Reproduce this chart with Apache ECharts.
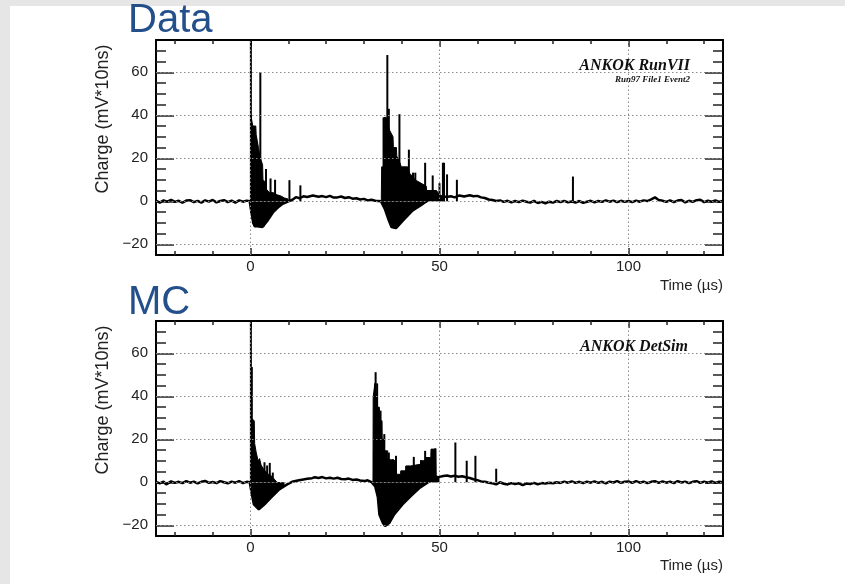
<!DOCTYPE html>
<html><head><meta charset="utf-8">
<script src="https://cdn.jsdelivr.net/npm/echarts@6/dist/echarts.min.js"></script>
<style>
html,body{margin:0;padding:0;background:#e6e6e6;width:845px;height:584px;overflow:hidden}
#paper{position:absolute;left:10px;top:6px;width:835px;height:578px;background:#fff}
#chart{position:absolute;left:0;top:0;width:845px;height:584px}
</style></head><body>
<div id="paper"></div><div id="chart"></div>
<script>
// ---- axes ----
const xRange = [-25, 125];
const yRange = [-25, 75];
const xMajorTicks = [0, 50, 100];
const xMinorTicks = [-20, -10, 10, 20, 30, 40, 60, 70, 80, 90, 110, 120];
const yMajorTicks = [-20, 0, 20, 40, 60];
const yMinorTicks = [-15, -10, -5, 5, 10, 15, 25, 30, 35, 45, 50, 55, 65, 70];
const panelTitles = ['Data', 'MC'];

// ---- Data panel (ANKOK RunVII) ----
const dataTrace = [[-25,0.3],[-24,-0.6],[-23,0.4],[-22,-0.2],[-21,0.7],[-20,-0.3],[-19,0.2],[-18,-0.7],[-17,0.3],[-16,0.5],[-15,-0.4],[-14,0.2],[-13,-0.6],[-12,0.4],[-11,-0.2],[-10,0.6],[-9,-0.5],[-8,0.1],[-7,0.5],[-6,-0.4],[-5,0.3],[-4,-0.6],[-3,0.4],[-2,-0.2],[-1,0.3],[-0.2,0],
[0.3,-6],[1,-11],[3,-12],[4.5,-9],[6,-5],[7.5,-2.5],[8.5,-1.2],[10,0],[11,0.6],[12,1.9],[13,1.4],[14,2.3],[15,2.0],[16.5,2.7],[18,2.1],[19,2.4],[20,1.9],[21,2.5],[22,1.7],[23,1.8],[24,2.2],[25,1.5],[26,1.9],[27,1.2],[28,1.4],[29,0.8],[30,1.1],[31,0.4],[32,0.7],[33,0.2],[34.5,0],
[35.5,-3.4],[36.4,-8],[37.3,-12],[38.5,-12.5],[40.3,-9],[42.9,-4.3],[45.6,-1.2],[47,0.5],[48.2,1.9],[49,1.2],[50,1.6],[51,2.4],[51.8,2.0],[53,2.3],[54,1.8],[55.3,2.7],[56.5,2.2],[58,2.8],[59,2.3],[60,2.5],[61,1.8],[62,1.5],[63,0.8],[64,0.6],[65,0.1],[66,0.4],[67,-0.3],[68,0.2],[69,-0.5],[70,0.1],[71,-0.4],[72,0.3],[73,-0.2],[74,-0.6],[75,0.2],[76,-0.8],[77,-0.3],[78,-1.0],[79,-0.2],[80,-0.6],[81,0.1],[82,-0.4],[83,0.2],[84,-0.5],[85,-0.1],[86,-0.6],[87,0.1],[88,-0.7],[89,-0.2],[90,0.2],[91,-0.5],[92,0.1],[93,-0.3],[94,0.4],[95,-0.2],[96,0.3],[97,-0.4],[98,0.2],[99,-0.3],[100,0.1],[101,-0.4],[102,0.3],[103,-0.2],[104,0.4],[105,0.1],[106,0.9],[107,1.8],[108,0.6],[109,0.2],[110,-0.3],[111,0.4],[112,-0.4],[113,0.3],[114,0.6],[115,-0.5],[116,0.2],[117,-0.3],[118,0.5],[119,0.7],[120,-0.4],[121,0.3],[122,-0.2],[123,0.4],[124,-0.3],[125,0.2]];
const dataHigh1 = [[0.1,40],[0.55,40],[0.6,35],[1.4,35],[1.5,31],[2.0,31],[2.1,25],[2.5,25],[2.6,20],[3.2,17],[3.3,10],[3.9,9],[4.0,6],[5,4],[6,4],[7,3],[8,2.5],[9,1.5],[10,1]];
const dataLow1 = [[0.1,0],[0.2,-5],[0.5,-10],[1,-12],[3.5,-12],[4.5,-9],[5.8,-5.5],[7,-3],[8.5,-1.2],[10,0]];
const dataHigh2 = [[34.6,0],[34.7,16],[35.3,16],[35.35,39],[35.9,39],[36.8,33],[37.7,30],[37.8,25],[38.6,25],[38.7,21],[39.5,18],[39.9,16],[41.6,16],[42.1,13],[43.9,9.6],[44,9],[46.5,7],[46.6,5],[49.2,5],[50,3],[51,2.2]];
const dataLow2 = [[34.6,0],[35.5,-3.4],[36.4,-8],[37.3,-12],[38.5,-12.8],[40.3,-9],[42.9,-4.3],[45.6,-1.2],[47,0]];
const dataSpikeT = [0.1, 2.6, 4.1, 5.3, 6.5, 10.3, 13.2, 35.2, 36.2, 36.6, 37.9, 39.4, 40.0, 41.9, 43.0, 43.6, 44.5, 46.2, 48.2, 50.0, 50.9, 51.2, 52.0, 54.6, 85.3];
const dataSpikeV = [75, 60, 15, 10.6, 10, 9.8, 7.4, 39, 68, 43, 25, 40.5, 15.4, 24, 13.3, 13.3, 8, 17.9, 12, 8.4, 17.9, 17.9, 12.5, 10, 11.5];

// ---- MC panel (ANKOK DetSim) ----
const mcTrace = [[-25,0.2],[-24,-0.5],[-23,0.3],[-22.3,-1.0],[-21,0.4],[-20,-0.3],[-19,0.2],[-18,-0.4],[-17,0.5],[-16,-0.2],[-15,0.3],[-14,-0.5],[-13,0.2],[-12,0.6],[-11,-0.3],[-10,0.1],[-9,-0.4],[-8,0.5],[-7,0],[-6,-0.5],[-5,0.3],[-4,-0.2],[-3,0.5],[-2,-0.4],[-1,0.2],[-0.2,0],
[0.3,-5],[0.9,-10.3],[2.2,-12.6],[3.7,-10.3],[5.4,-7.2],[7.6,-3.3],[9.8,-0.9],[11,0.2],[12.8,0.9],[14,1.3],[15,1.6],[16.3,1.9],[17,2.3],[18,2.0],[19,2.4],[20,1.8],[21,2.1],[22,1.7],[23,2.1],[24,1.5],[25,1.4],[26,1.7],[27,1.1],[28,1.3],[29,0.8],[30.3,0.6],[31,0.9],[32,0.1],[32.4,0],
[33,-2],[33.7,-7],[34.1,-15],[35,-18.9],[35.6,-20.4],[36.7,-19],[38,-15],[40.2,-10.3],[42.4,-6.4],[44.6,-2.8],[46.8,-0.2],[48.5,1.4],[50,2.5],[51,2.9],[52,3.1],[53,2.7],[54,3.0],[55,2.6],[56,2.8],[57,2.3],[58,2.0],[59,1.4],[60,1.0],[61,0.4],[62,0.2],[63,-0.2],[64,-0.5],[65,-1.0],[66,0],[67,-0.7],[68,-1.0],[69,-0.4],[70,-0.8],[71,-0.5],[72,-1.3],[73,-0.6],[74,-0.8],[75,-0.3],[76,-1.0],[77,-0.4],[78,-0.6],[79,-0.2],[80,-0.5],[81,0],[82,-0.3],[83,0.3],[84,-0.2],[85,0.4],[86,-0.3],[87,0.2],[88,-0.4],[89,0.3],[90,-0.2],[91,0.4],[92,-0.3],[93,0.2],[94,-0.5],[95,0.3],[96,-0.1],[97,0.5],[98,-0.3],[99,0.2],[100,0.4],[101,-0.3],[102,0.5],[103,-0.2],[104,0.3],[105,-0.4],[106,0.2],[107,0.5],[108,-0.3],[109,0.4],[110,-0.2],[111,0.3],[112,-0.4],[113,0.5],[114,-0.1],[115,0.3],[116,-0.4],[117,0.2],[118,0.5],[119,-0.3],[120,0.3],[121,-0.2],[122,0.4],[123,-0.3],[124,0.2],[125,0]];
const mcHigh1 = [[0.3,0],[0.35,29.6],[1.0,28.6],[1.1,18],[1.5,14],[1.9,14],[2.0,10],[2.4,11],[2.8,8],[3.5,6],[4.5,4],[5.5,3],[6.5,1],[7.5,-1],[8.5,-1.5]];
const mcLow1 = [[0.2,0],[0.6,-5.6],[0.9,-10.3],[2.2,-12.6],[3.7,-10.3],[5.4,-7.2],[7.6,-3.3],[9,-1.5]];
const mcHigh2 = [[32.4,0],[32.45,39.5],[32.9,46],[33.3,39.5],[33.4,35],[34.1,34.9],[34.15,28.6],[34.8,28.6],[34.85,20],[35.4,20],[35.45,14.6],[36.3,14.6],[36.35,11],[37.1,10.5],[38.4,10],[38.45,3.7],[39.7,3.7],[39.75,5.3],[41.1,5.3],[41.15,7.6],[42.4,7.6],[43.7,8],[45.1,8.4],[45.15,10],[46.4,10],[46.45,11.5],[47.7,11.5],[47.75,15.4],[49,15.4],[49.1,3],[50,2.5]];
const mcLow2 = [[32.4,0],[33,-2],[33.7,-7],[34.1,-15],[35,-18.9],[35.6,-20.4],[36.7,-19],[38,-15],[40.2,-10.3],[42.4,-6.4],[44.6,-2.8],[46.8,-0.2],[47.5,0]];
const mcSpikeT = [0.1, 0.35, 3.7, 4.4, 5.1, 5.9, 33.1, 33.5, 34.4, 35.4, 36.6, 37.7, 38.5, 41.2, 43.2, 45.1, 46.2, 47.3, 48.3, 48.9, 54.2, 57.2, 59.5, 65];
const mcSpikeV = [75, 53.6, 9.3, 7.8, 9, 4.5, 51.2, 46, 33.3, 22.4, 13.8, 10.7, 12.3, 7.6, 11.8, 10.3, 14.6, 10.3, 15.4, 15.8, 18.5, 10, 12.3, 6.3];

// ---- build option ----
const SANS = '"Liberation Sans", Arial, Helvetica, sans-serif';
const SERIF = '"Liberation Serif", "Times New Roman", serif';
const gridTops = [40, 321];
const tickCol = '#222';
const fmt = v => String(v).replace('-', '\u2212');

const grids = [], xAxes = [], yAxes = [], series = [];
function addPanel(g, trace, fills, spT, spV) {
  grids.push({left: 156, top: gridTops[g], width: 567, height: 215, containLabel: false});
  const xb = xAxes.length;
  const xBase = {type: 'value', gridIndex: g, min: xRange[0], max: xRange[1], splitLine: {show: false}};
  xAxes.push(Object.assign({}, xBase, {position: 'bottom',
    axisLine: {show: true, onZero: false, lineStyle: {color: '#000', width: 2}},
    axisTick: {show: true, inside: true, length: 7, customValues: xMajorTicks, lineStyle: {color: tickCol, width: 1.5}},
    axisLabel: {show: true, customValues: xMajorTicks, margin: 4, color: '#222', fontSize: 15, fontFamily: SANS, formatter: fmt}}));
  xAxes.push(Object.assign({}, xBase, {position: 'bottom',
    axisLine: {show: false, onZero: false},
    axisTick: {show: true, inside: true, length: 4, customValues: xMinorTicks, lineStyle: {color: tickCol, width: 1.5}},
    axisLabel: {show: false}}));
  xAxes.push(Object.assign({}, xBase, {position: 'top',
    axisLine: {show: true, onZero: false, lineStyle: {color: '#000', width: 2}},
    axisTick: {show: true, inside: true, length: 7, customValues: xMajorTicks, lineStyle: {color: tickCol, width: 1.5}},
    axisLabel: {show: false}}));
  xAxes.push(Object.assign({}, xBase, {position: 'top',
    axisLine: {show: false, onZero: false},
    axisTick: {show: true, inside: true, length: 4, customValues: xMinorTicks, lineStyle: {color: tickCol, width: 1.5}},
    axisLabel: {show: false}}));
  const yb = yAxes.length;
  const yBase = {type: 'value', gridIndex: g, min: yRange[0], max: yRange[1], splitLine: {show: false}};
  yAxes.push(Object.assign({}, yBase, {position: 'left',
    axisLine: {show: true, onZero: false, lineStyle: {color: '#000', width: 2}},
    axisTick: {show: true, inside: true, length: 18, customValues: yMajorTicks, lineStyle: {color: tickCol, width: 1.5}},
    axisLabel: {show: true, customValues: yMajorTicks, margin: 8, color: '#222', fontSize: 15, fontFamily: SANS, formatter: fmt}}));
  yAxes.push(Object.assign({}, yBase, {position: 'left',
    axisLine: {show: false, onZero: false},
    axisTick: {show: true, inside: true, length: 10, customValues: yMinorTicks, lineStyle: {color: tickCol, width: 1.5}},
    axisLabel: {show: false}}));
  yAxes.push(Object.assign({}, yBase, {position: 'right',
    axisLine: {show: true, onZero: false, lineStyle: {color: '#000', width: 2}},
    axisTick: {show: true, inside: true, length: 18, customValues: yMajorTicks, lineStyle: {color: tickCol, width: 1.5}},
    axisLabel: {show: false}}));
  yAxes.push(Object.assign({}, yBase, {position: 'right',
    axisLine: {show: false, onZero: false},
    axisTick: {show: true, inside: true, length: 10, customValues: yMinorTicks, lineStyle: {color: tickCol, width: 1.5}},
    axisLabel: {show: false}}));

  const ax = {xAxisIndex: xb, yAxisIndex: yb};
  // dotted grid lines
  series.push(Object.assign({type: 'line', data: [], z: 1, silent: true,
    markLine: {silent: true, symbol: 'none', animation: false, label: {show: false},
      lineStyle: {color: '#8a8a8a', type: [1.5, 2.5], width: 1},
      data: xMajorTicks.map(v => ({xAxis: v})).concat(yMajorTicks.map(v => ({yAxis: v})))}}, ax));
  // dense pulse regions
  fills.forEach(f => series.push(Object.assign({type: 'line', data: f, z: 3, showSymbol: false, silent: true,
    lineStyle: {color: '#000', width: 1}, areaStyle: {color: '#000', opacity: 1}}, ax)));
  // waveform trace
  series.push(Object.assign({type: 'line', data: trace, z: 4, showSymbol: false, silent: true,
    lineStyle: {color: '#000', width: 2.5}}, ax));
  // single-sample spikes
  series.push(Object.assign({type: 'bar', data: spT.map((t, i) => [t, spV[i]]), z: 4, barWidth: 2, silent: true,
    itemStyle: {color: '#000'}}, ax));
}
addPanel(0, dataTrace, [dataHigh1, dataLow1, dataHigh2, dataLow2], dataSpikeT, dataSpikeV);
addPanel(1, mcTrace, [mcHigh1, mcLow1, mcHigh2, mcLow2], mcSpikeT, mcSpikeV);

const txt = (x, y, text, font, fill, align, extra) => Object.assign({type: 'text', x, y,
  style: {text, font, fill, align, verticalAlign: 'middle'}}, extra || {});
const graphic = [
  txt(128, 21, panelTitles[0], '40px ' + SANS, '#234f8a', 'left'),
  txt(128, 303, panelTitles[1], '40px ' + SANS, '#234f8a', 'left'),
  txt(103, 119, 'Charge (mV*10ns)', '18px ' + SANS, '#222', 'center', {rotation: Math.PI / 2}),
  txt(103, 400, 'Charge (mV*10ns)', '18px ' + SANS, '#222', 'center', {rotation: Math.PI / 2}),
  txt(723, 286, 'Time (\u00b5s)', '15px ' + SANS, '#222', 'right'),
  txt(723, 566, 'Time (\u00b5s)', '15px ' + SANS, '#222', 'right'),
  txt(690, 66, 'ANKOK RunVII', 'italic bold 16px ' + SERIF, '#111', 'right'),
  txt(690, 79.5, 'Run97 File1 Event2', 'italic bold 9px ' + SERIF, '#111', 'right'),
  txt(688, 347, 'ANKOK DetSim', 'italic bold 16px ' + SERIF, '#111', 'right')
];

const chart = echarts.init(document.getElementById('chart'), null, {renderer: 'canvas'});
chart.setOption({animation: false, backgroundColor: 'transparent', grid: grids, xAxis: xAxes, yAxis: yAxes, series, graphic});
</script></body></html>
